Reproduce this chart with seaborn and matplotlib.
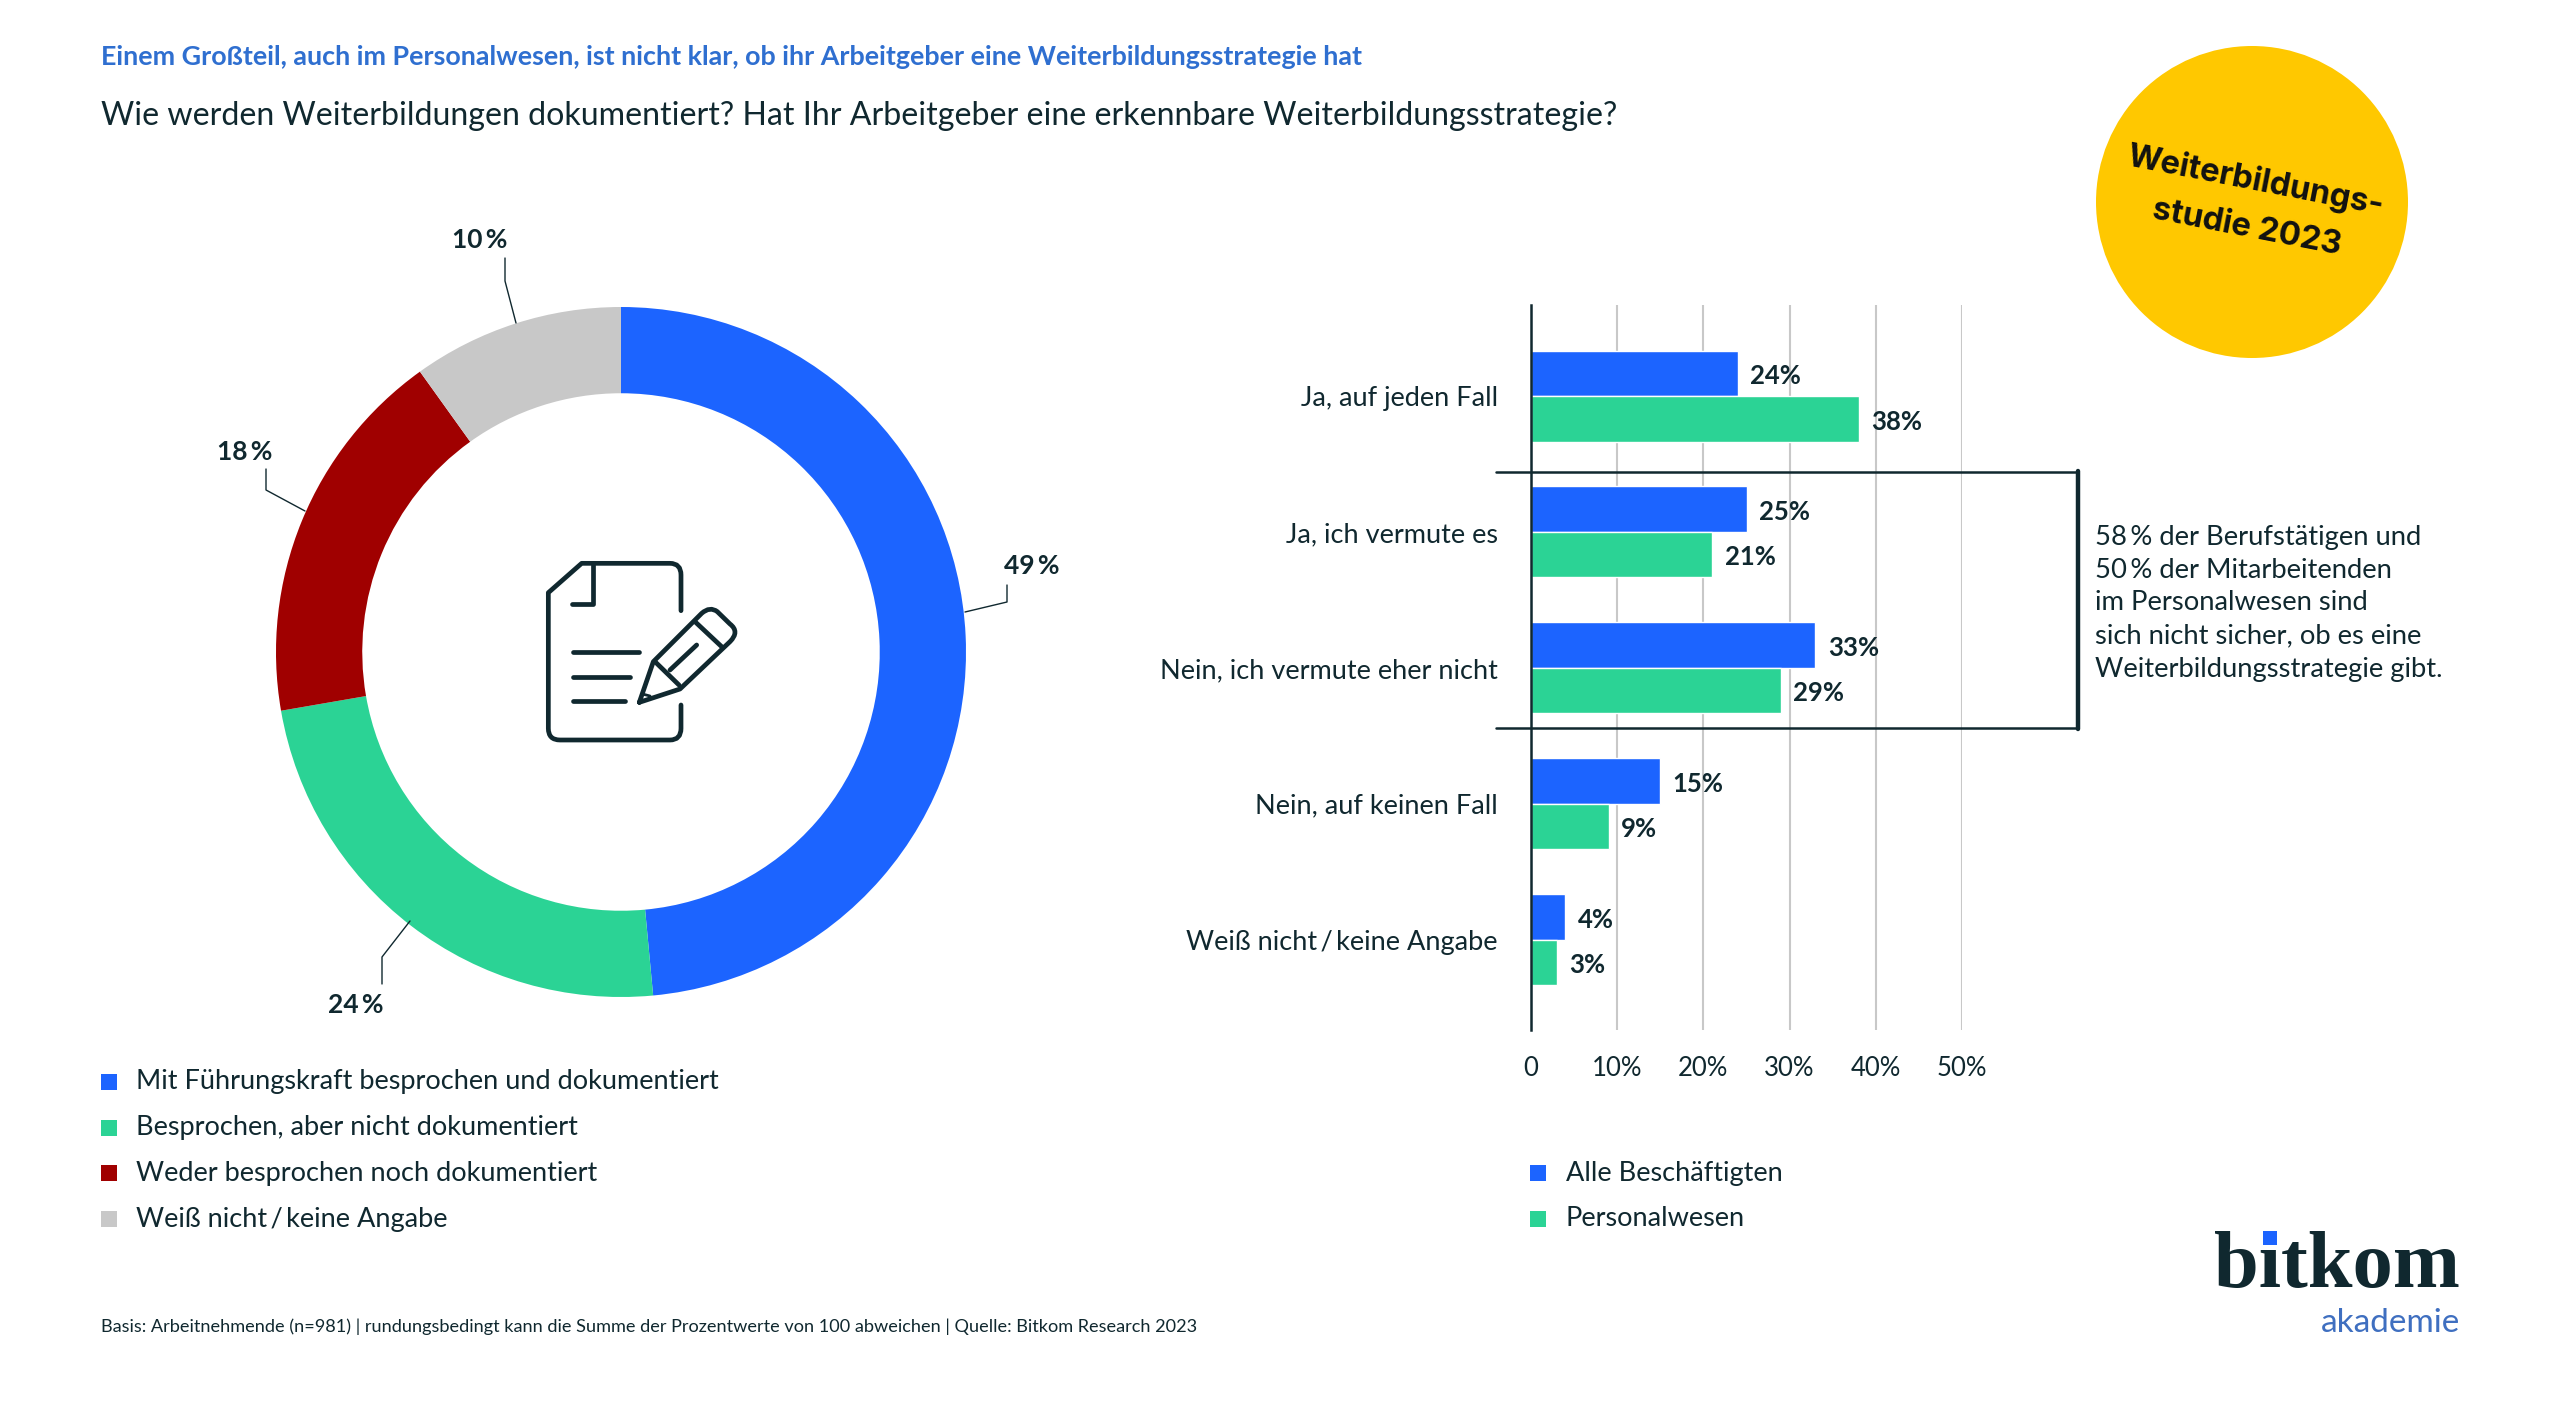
import pandas as pd
import matplotlib
matplotlib.use('Agg')
import matplotlib.pyplot as plt
from matplotlib.patches import Circle, PathPatch, Rectangle
from matplotlib.path import Path
import seaborn as sns

# donut data
donut_labels = ['Mit Führungskraft besprochen und dokumentiert', 'Besprochen, aber nicht dokumentiert',
                'Weder besprochen noch dokumentiert', 'Weiß nicht\u2009/\u2009keine Angabe']
donut_values = [49, 24, 18, 10]

# bar data
categories = ['Ja, auf jeden Fall', 'Ja, ich vermute es', 'Nein, ich vermute eher nicht',
              'Nein, auf keinen Fall', 'Weiß nicht\u2009/\u2009keine Angabe']
alle = [24, 25, 33, 15, 4]
personal = [38, 21, 29, 9, 3]
bar_groups = ['Alle Beschäftigten', 'Personalwesen']
x_ticks = [0, 10, 20, 30, 40, 50]
x_tick_labels = ['0', '10%', '20%', '30%', '40%', '50%']

BLUE = '#1c64ff'
GREEN = '#2bd395'
RED = '#a00000'
GRAY = '#c8c8c8'
DARK = '#10282f'
W, H = 2560, 1424

sns.set_style('white')
plt.rcParams['font.family'] = ['Lato', 'DejaVu Sans']

fig = plt.figure(figsize=(25.6, 14.24), dpi=100, facecolor='white')


def px_axes(left, top, width, height, **kw):
    return fig.add_axes([left / W, 1 - (top + height) / H, width / W, height / H], **kw)


# donut
ax_pie = px_axes(276, 307, 690, 690)
ax_pie.pie(donut_values, colors=[BLUE, GREEN, RED, GRAY], startangle=90, counterclock=False,
           radius=1, wedgeprops={'width': 0.25, 'linewidth': 0})
ax_pie.set_xlim(-1, 1)
ax_pie.set_ylim(-1, 1)

# bars
df = pd.DataFrame({
    'Kategorie': categories * 2,
    'Wert': alle + personal,
    'Gruppe': [bar_groups[0]] * len(alle) + [bar_groups[1]] * len(personal),
})
ax = px_axes(1531, 305, 431, 725)
sns.barplot(data=df, x='Wert', y='Kategorie', hue='Gruppe', order=categories, hue_order=bar_groups,
            palette=[BLUE, GREEN], width=0.67, gap=0, saturation=1, legend=False, ax=ax, zorder=3)
ax.set_xlim(0, 50)
ax.set_ylim(4.665, -0.67)
ax.set_xticks(x_ticks, x_tick_labels)
ax.set_xlabel('')
ax.set_ylabel('')
ax.grid(axis='x', color=GRAY, lw=1.5)
ax.grid(axis='y', visible=False)
ax.set_axisbelow(True)
ax.patch.set_alpha(0)
for s in ['top', 'right', 'bottom']:
    ax.spines[s].set_visible(False)
ax.spines['left'].set_color(DARK)
ax.spines['left'].set_linewidth(1.8)
ax.spines['left'].set_zorder(5)
ax.tick_params(axis='x', length=0, pad=19, labelsize=18.5, labelcolor=DARK)
ax.tick_params(axis='y', length=0, pad=24, labelsize=19.5, labelcolor=DARK)
for c in ax.containers:
    for t in ax.bar_label(c, fmt='%g%%', padding=9, fontsize=18.5, fontweight='bold', color=DARK):
        t.xyann = (t.xyann[0], -2)

# overlay in pixel coordinates for everything around the charts
ov = fig.add_axes([0, 0, 1, 1], zorder=10)
ov.set_xlim(0, W)
ov.set_ylim(H, 0)
ov.axis('off')

ov.text(101, 57, 'Einem Großteil, auch im Personalwesen, ist nicht klar, ob ihr Arbeitgeber eine Weiterbildungsstrategie hat',
        fontsize=19.35, fontweight='bold', color='#2f6fd0', va='center')
ov.text(101, 116, 'Wie werden Weiterbildungen dokumentiert? Hat Ihr Arbeitgeber eine erkennbare Weiterbildungsstrategie?',
        fontsize=23.15, color=DARK, va='center')
ov.text(101, 1327, 'Basis: Arbeitnehmende (n=981) | rundungsbedingt kann die Summe der Prozentwerte von 100 abweichen | Quelle: Bitkom Research 2023',
        fontsize=13.1, color=DARK, va='center')

# donut labels and leaders
leaders = [[(965, 612), (1007, 602), (1007, 585)], [(410, 921), (382, 957), (382, 984)],
           [(305, 511), (266, 490), (266, 469)], [(516, 323), (505, 281), (505, 258)]]
label_pos = [(1032, 566), (356, 1005), (245, 452), (480, 240)]
for val, pts, pos in zip(donut_values, leaders, label_pos):
    ov.plot(*zip(*pts), color=DARK, lw=1)
    ov.text(pos[0], pos[1], f'{val}\u2009%', fontsize=19, fontweight='bold', color=DARK, ha='center', va='center')

# legends
for lab, col, y in zip(donut_labels, [BLUE, GREEN, RED, GRAY], [1082, 1128, 1173, 1219]):
    ov.add_patch(Rectangle((101, y - 8), 16, 16, color=col, lw=0))
    ov.text(136, y, lab, fontsize=19.5, color=DARK, va='center')
for lab, col, y in zip(bar_groups, [BLUE, GREEN], [1173, 1219]):
    ov.add_patch(Rectangle((1530, y - 8), 16, 16, color=col, lw=0))
    ov.text(1566, y, lab, fontsize=19.5, color=DARK, va='center')

# bracket
ov.plot([1496, 2078], [472, 472], color=DARK, lw=1.8)
ov.plot([1496, 2078], [728, 728], color=DARK, lw=1.8)
ov.plot([2078, 2078], [471, 729], color=DARK, lw=3.2)
note = ['58\u2009% der Berufstätigen und', '50\u2009% der Mitarbeitenden', 'im Personalwesen sind',
        'sich nicht sicher, ob es eine', 'Weiterbildungsstrategie gibt.']
for line, y in zip(note, [537, 570, 603, 636, 669]):
    ov.text(2095, y, line, fontsize=19.7, color=DARK, va='center')

# badge
ov.add_patch(Circle((2252, 202), 156, color='#ffc800', lw=0))
ov.text(2255, 181, 'Weiterbildungs-', fontsize=23.6, fontweight='bold', family='Inter', color='#111111',
        rotation=-11, rotation_mode='anchor', ha='center', va='center')
ov.text(2247, 228, 'studie 2023', fontsize=23.6, fontweight='bold', family='Inter', color='#111111',
        rotation=-11, rotation_mode='anchor', ha='center', va='center')


# document icon, coordinates taken from the 3x crop
def ic(x, y):
    return (480 + x / 3, 520 + y / 3)


def icon_path(pts, lw=3.4):
    verts, codes = [], []
    for i, p in enumerate(pts):
        verts.append(ic(*p[:2]))
        codes.append(Path.MOVETO if i == 0 else (Path.CURVE3 if len(p) == 3 else Path.LINETO))
    ov.add_patch(PathPatch(Path(verts, codes), fill=False, edgecolor=DARK, lw=lw,
                           capstyle='round', joinstyle='round'))


icon_path([(603, 272), (603, 165), (603, 130, 1), (570, 130, 1), (305, 130), (205, 218), (205, 625),
           (205, 660, 1), (240, 660, 1), (570, 660), (603, 660, 1), (603, 625, 1), (603, 555)])
icon_path([(340, 135), (340, 252), (275, 252)])
icon_path([(278, 397), (478, 397)])
icon_path([(278, 470), (450, 470)])
icon_path([(278, 544), (435, 544)])
icon_path([(478, 547), (520, 425), (665, 280), (690, 258, 1), (712, 275, 1), (750, 312), (780, 335, 1),
           (750, 365, 1), (600, 507), (478, 547)])
icon_path([(525, 425), (597, 495)])
icon_path([(645, 305), (725, 380)])
icon_path([(570, 450), (650, 375)])
icon_path([(487, 522), (510, 528)], lw=2)

# logo
ov.text(2460, 1287, 'bitkom', fontsize=58, fontweight='bold', family='Liberation Serif', color=DARK,
        ha='right', va='baseline')
ov.add_patch(Rectangle((2263, 1231), 14, 14, color=BLUE, lw=0, zorder=5))
ov.text(2460, 1332, 'akademie', fontsize=24, color='#3f6fc0', ha='right', va='baseline')

fig.savefig('out.png', dpi=100)
